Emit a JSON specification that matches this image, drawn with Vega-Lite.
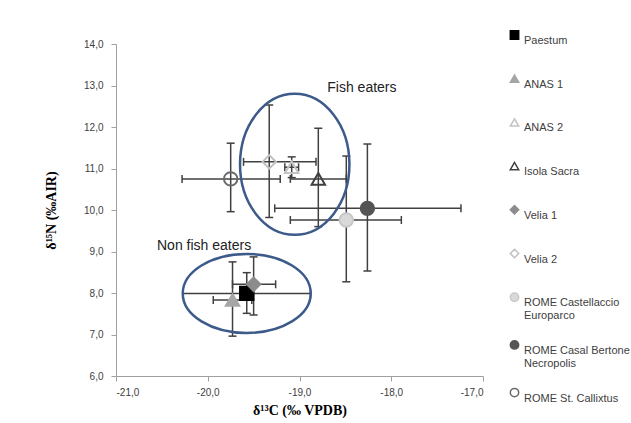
{
  "$schema": "https://vega.github.io/schema/vega-lite/v6.json",
  "width": 367,
  "height": 332,
  "autosize": "none",
  "padding": {"left": 116, "top": 44, "right": 148, "bottom": 47},
  "background": "white",
  "config": {
    "view": {"stroke": null},
    "axis": {"grid": false, "domainColor": "#a0a0a0", "tickColor": "#a0a0a0", "tickSize": 5, "labelFont": "Liberation Sans", "labelFontSize": 10, "labelColor": "#404040", "titleFont": "Liberation Serif", "titleFontSize": 14, "titleFontWeight": "bold", "titleColor": "#000000"}
  },
  "datasets": {
    "sites": [
      {"site": "Paestum", "c": -19.575, "n": 7.99, "cLo": -20.27, "cHi": -18.88, "nLo": 7.51, "nHi": 8.49},
      {"site": "ANAS 1", "c": -19.73, "n": 7.83, "cLo": -19.94, "cHi": -19.52, "nLo": 6.96, "nHi": 8.75},
      {"site": "ANAS 2", "c": -19.085, "n": 11.03, "cLo": -19.16, "cHi": -19.01, "nLo": 10.78, "nHi": 11.28},
      {"site": "Isola Sacra", "c": -18.795, "n": 10.75, "cLo": -19.1, "cHi": -18.49, "nLo": 9.6, "nHi": 11.97},
      {"site": "Velia 1", "c": -19.5, "n": 8.21, "cLo": -19.73, "cHi": -19.26, "nLo": 7.47, "nHi": 8.87},
      {"site": "Velia 2", "c": -19.33, "n": 11.16, "cLo": -19.61, "cHi": -18.82, "nLo": 9.82, "nHi": 12.53},
      {"site": "ROME Castellaccio Europarco", "c": -18.49, "n": 9.76, "cLo": -19.1, "cHi": -17.89, "nLo": 8.27, "nHi": 11.3},
      {"site": "ROME Casal Bertone Necropolis", "c": -18.26, "n": 10.04, "cLo": -19.27, "cHi": -17.24, "nLo": 8.53, "nHi": 11.59},
      {"site": "ROME St. Callixtus", "c": -19.75, "n": 10.75, "cLo": -20.28, "cHi": -19.21, "nLo": 9.96, "nHi": 11.61}
    ],
    "groups": [
      {"group": "fish", "c": -19.052, "n": 11.1},
      {"group": "nonfish", "c": -19.575, "n": 7.99}
    ],
    "notes": [
      {"text": "Fish eaters", "c": -18.32, "n": 12.94},
      {"text": "Non fish eaters", "c": -20.04, "n": 9.13}
    ]
  },
  "layer": [
    {
      "data": {"name": "sites"},
      "mark": {"type": "rule", "color": "#404040", "strokeWidth": 1.5},
      "encoding": {
        "x": {"field": "cLo", "type": "quantitative", "scale": {"domain": [-21, -17]}, "axis": {"values": [-21, -20, -19, -18, -17], "labelExpr": "replace(replace(format(datum.value, '.1f'), '.', ','), '\u2212', '-')", "labelPadding": 6, "titlePadding": 6, "title": "δ¹³C (‰ VPDB)"}},
        "x2": {"field": "cHi"},
        "y": {"field": "n", "type": "quantitative", "scale": {"domain": [6, 14]}, "axis": {"values": [6, 7, 8, 9, 10, 11, 12, 13, 14], "labelExpr": "replace(format(datum.value, '.1f'), '.', ',')", "labelPadding": 8, "titlePadding": 25, "title": "δ¹⁵N (‰AIR)"}}
      }
    },
    {
      "data": {"name": "sites"},
      "mark": {"type": "rule", "color": "#404040", "strokeWidth": 1.5},
      "encoding": {
        "x": {"field": "c", "type": "quantitative"},
        "y": {"field": "nLo", "type": "quantitative"},
        "y2": {"field": "nHi"}
      }
    },
    {
      "data": {"name": "sites"},
      "mark": {"type": "tick", "orient": "vertical", "color": "#404040", "size": 8, "thickness": 1.5, "opacity": 1},
      "encoding": {"x": {"field": "cLo", "type": "quantitative"}, "y": {"field": "n", "type": "quantitative"}}
    },
    {
      "data": {"name": "sites"},
      "mark": {"type": "tick", "orient": "vertical", "color": "#404040", "size": 8, "thickness": 1.5, "opacity": 1},
      "encoding": {"x": {"field": "cHi", "type": "quantitative"}, "y": {"field": "n", "type": "quantitative"}}
    },
    {
      "data": {"name": "sites"},
      "mark": {"type": "tick", "orient": "horizontal", "color": "#404040", "size": 8, "thickness": 1.5, "opacity": 1},
      "encoding": {"x": {"field": "c", "type": "quantitative"}, "y": {"field": "nLo", "type": "quantitative"}}
    },
    {
      "data": {"name": "sites"},
      "mark": {"type": "tick", "orient": "horizontal", "color": "#404040", "size": 8, "thickness": 1.5, "opacity": 1},
      "encoding": {"x": {"field": "c", "type": "quantitative"}, "y": {"field": "nHi", "type": "quantitative"}}
    },
    {
      "data": {"name": "sites"},
      "mark": {"type": "point", "size": 180, "strokeWidth": 2, "opacity": 1},
      "encoding": {
        "x": {"field": "c", "type": "quantitative"},
        "y": {"field": "n", "type": "quantitative"},
        "shape": {"field": "site", "type": "nominal", "sort": null,
          "scale": {"domain": ["Paestum", "ANAS 1", "ANAS 2", "Isola Sacra", "Velia 1", "Velia 2", "ROME Castellaccio Europarco", "ROME Casal Bertone Necropolis", "ROME St. Callixtus"],
                    "range": ["square", "triangle-up", "triangle-up", "triangle-up", "diamond", "diamond", "circle", "circle", "circle"]},
          "legend": {"title": null, "orient": "none", "legendX": 393, "legendY": -29, "clipHeight": 40, "rowPadding": 3.7, "symbolSize": 70, "symbolStrokeWidth": 1.5, "labelFont": "Liberation Sans", "labelFontSize": 11, "labelColor": "#404040", "labelBaseline": "top", "labelOffset": 4,
            "labelExpr": "datum.label == 'ROME Castellaccio Europarco' ? ['ROME Castellaccio', 'Europarco'] : datum.label == 'ROME Casal Bertone Necropolis' ? ['ROME Casal Bertone', 'Necropolis'] : datum.label",
            "encode": {"labels": {"enter": {"lineHeight": {"value": 18}}, "update": {"dy": {"value": -6}, "lineHeight": {"value": 18}}}}}},
        "stroke": {"field": "site", "type": "nominal", "sort": null,
          "scale": {"domain": ["Paestum", "ANAS 1", "ANAS 2", "Isola Sacra", "Velia 1", "Velia 2", "ROME Castellaccio Europarco", "ROME Casal Bertone Necropolis", "ROME St. Callixtus"],
                    "range": ["#000000", "#a6a6a6", "#c4c4c4", "#404040", "#8c8c8c", "#c0c0c0", "#c8c8c8", "#555555", "#6a6a6a"]},
          "legend": {"title": null, "orient": "none", "legendX": 393, "legendY": -29, "clipHeight": 40, "rowPadding": 3.7, "symbolSize": 70, "symbolStrokeWidth": 1.5, "labelFont": "Liberation Sans", "labelFontSize": 11, "labelColor": "#404040", "labelBaseline": "top", "labelOffset": 4,
            "labelExpr": "datum.label == 'ROME Castellaccio Europarco' ? ['ROME Castellaccio', 'Europarco'] : datum.label == 'ROME Casal Bertone Necropolis' ? ['ROME Casal Bertone', 'Necropolis'] : datum.label",
            "encode": {"labels": {"enter": {"lineHeight": {"value": 18}}, "update": {"dy": {"value": -6}, "lineHeight": {"value": 18}}}}}},
        "fill": {"field": "site", "type": "nominal", "sort": null,
          "scale": {"domain": ["Paestum", "ANAS 1", "ANAS 2", "Isola Sacra", "Velia 1", "Velia 2", "ROME Castellaccio Europarco", "ROME Casal Bertone Necropolis", "ROME St. Callixtus"],
                    "range": ["#000000", "#a6a6a6", "transparent", "transparent", "#8c8c8c", "transparent", "#d9d9d9", "#555555", "transparent"]},
          "legend": {"title": null, "orient": "none", "legendX": 393, "legendY": -29, "clipHeight": 40, "rowPadding": 3.7, "symbolSize": 70, "symbolStrokeWidth": 1.5, "labelFont": "Liberation Sans", "labelFontSize": 11, "labelColor": "#404040", "labelBaseline": "top", "labelOffset": 4,
            "labelExpr": "datum.label == 'ROME Castellaccio Europarco' ? ['ROME Castellaccio', 'Europarco'] : datum.label == 'ROME Casal Bertone Necropolis' ? ['ROME Casal Bertone', 'Necropolis'] : datum.label",
            "encode": {"labels": {"enter": {"lineHeight": {"value": 18}}, "update": {"dy": {"value": -6}, "lineHeight": {"value": 18}}}}}}
      }
    },
    {
      "data": {"name": "groups"},
      "transform": [{"filter": "datum.group == 'fish'"}],
      "mark": {"type": "point", "shape": "M-1,0A1,1.289,0,1,1,1,0A1,1.289,0,1,1,-1,0Z", "size": 11968, "filled": false, "stroke": "#3c5a8a", "strokeWidth": 2.5, "opacity": 1},
      "encoding": {"x": {"field": "c", "type": "quantitative"}, "y": {"field": "n", "type": "quantitative"}}
    },
    {
      "data": {"name": "groups"},
      "transform": [{"filter": "datum.group == 'nonfish'"}],
      "mark": {"type": "point", "shape": "M-1,0A1,0.617,0,1,1,1,0A1,0.617,0,1,1,-1,0Z", "size": 16384, "filled": false, "stroke": "#3c5a8a", "strokeWidth": 2.5, "opacity": 1},
      "encoding": {"x": {"field": "c", "type": "quantitative"}, "y": {"field": "n", "type": "quantitative"}}
    },
    {
      "data": {"name": "notes"},
      "mark": {"type": "text", "font": "Liberation Sans", "fontSize": 14, "color": "#222222", "align": "center", "baseline": "middle"},
      "encoding": {"x": {"field": "c", "type": "quantitative"}, "y": {"field": "n", "type": "quantitative"}, "text": {"field": "text"}}
    }
  ]
}
